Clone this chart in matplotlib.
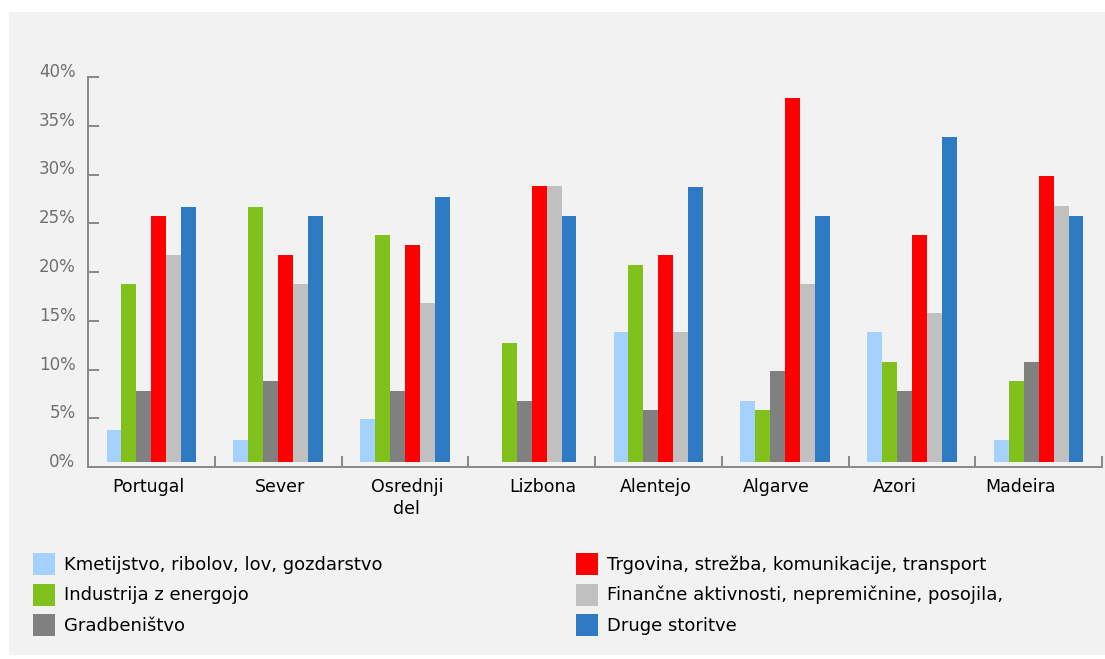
import numpy as np
import matplotlib
matplotlib.use("Agg")
import matplotlib.pyplot as plt
import matplotlib.transforms as mtransforms
from matplotlib.patches import Rectangle, Patch

# data (share of employment by sector, %)
regions = ["Portugal", "Sever", "Osrednji\ndel", "Lizbona", "Alentejo", "Algarve", "Azori", "Madeira"]
sectors = [
    "Kmetijstvo, ribolov, lov, gozdarstvo",
    "Industrija z energojo",
    "Gradbeništvo",
    "Trgovina, strežba, komunikacije, transport",
    "Finančne aktivnosti, nepremičnine, posojila,",
    "Druge storitve",
]
kmetijstvo = [3.8, 2.8, 4.9, 0.0, 13.8, 6.8, 13.8, 2.8]
industrija = [18.8, 26.7, 23.8, 12.7, 20.7, 5.8, 10.8, 8.8]
gradbenistvo = [7.8, 8.8, 7.8, 6.8, 5.8, 9.8, 7.8, 10.8]
trgovina = [25.7, 21.7, 22.8, 28.8, 21.7, 37.8, 23.8, 29.8]
financne = [21.7, 18.8, 16.8, 28.8, 13.8, 18.8, 15.8, 26.8]
druge = [26.7, 25.7, 27.7, 25.7, 28.7, 25.7, 33.8, 25.7]
yticks = [0, 5, 10, 15, 20, 25, 30, 35, 40]

series = [kmetijstvo, industrija, gradbenistvo, trgovina, financne, druge]
colors = ["#a4d1fe", "#80c11c", "#808080", "#ff0000", "#c0c0c0", "#2e7bc3"]

PANEL = "#f2f2f2"
AXC = "#888888"
W, H = 1105, 659

fig = plt.figure(figsize=(W / 100, H / 100), dpi=100)
fig.patch.set_facecolor("white")
fig.patches.append(Rectangle((9 / W, 4 / H), 1 - 9 / W, (655 - 12) / H,
                             transform=fig.transFigure, facecolor=PANEL,
                             edgecolor="none", zorder=-10))

ax = fig.add_axes([88 / W, 1 - 467 / H, (1102 - 88) / W, (467 - 77) / H])
ax.set_facecolor("none")

bw = 0.118
base = 0.55
idx = np.arange(len(regions))
for j, (vals, col) in enumerate(zip(series, colors)):
    vals = np.array(vals)
    keep = vals > 0
    xs = idx[keep] + 0.5 + (j - 2.5) * bw
    ax.bar(xs, vals[keep] - base, bottom=base, width=bw, color=col,
           linewidth=0, label=sectors[j])

ax.set_xlim(0, len(regions))
ax.set_ylim(0, 40)

for s in ["top", "right"]:
    ax.spines[s].set_visible(False)
for s in ["left", "bottom"]:
    ax.spines[s].set_color(AXC)
    ax.spines[s].set_linewidth(1.4)

ax.set_yticks(yticks)
ax.set_yticklabels([f"{v}%" for v in yticks])
ax.tick_params(axis="y", direction="in", length=8, width=1.4, color=AXC,
               labelcolor="#707070", labelsize=12, pad=9)
offset = mtransforms.ScaledTranslation(0, 0.07, fig.dpi_scale_trans)
for lbl in ax.get_yticklabels():
    lbl.set_transform(lbl.get_transform() + offset)

ax.set_xticks(idx + 0.5)
ax.set_xticklabels(regions, fontsize=12.5, color="black", linespacing=1.3)
ax.set_xticks(idx + 1, minor=True)
ax.tick_params(axis="x", which="major", length=0, pad=8)
ax.tick_params(axis="x", which="minor", direction="in", length=8, width=1.4, color=AXC)

# the source labels sit a little off the group centres
label_shift = [-3, 2, 2, 11, -3, -9, -17, -18]
for lbl, dx in zip(ax.get_xticklabels(), label_shift):
    lbl.set_transform(lbl.get_transform() +
                      mtransforms.ScaledTranslation(dx / 100, 0, fig.dpi_scale_trans))

handles = [Patch(facecolor=c, edgecolor="none") for c in colors]
leg_kw = dict(frameon=False, fontsize=13, handlelength=1.22, handleheight=1.5,
              handletextpad=0.5, labelspacing=0.47, borderpad=0, borderaxespad=0,
              loc="upper left")
fig.legend(handles[:3], sectors[:3], bbox_to_anchor=(33 / W, 1 - 553 / H), **leg_kw)
fig.legend(handles[3:], sectors[3:], bbox_to_anchor=(576 / W, 1 - 553 / H), **leg_kw)

plt.savefig("out.png", dpi=100, facecolor="white")
plt.close()
